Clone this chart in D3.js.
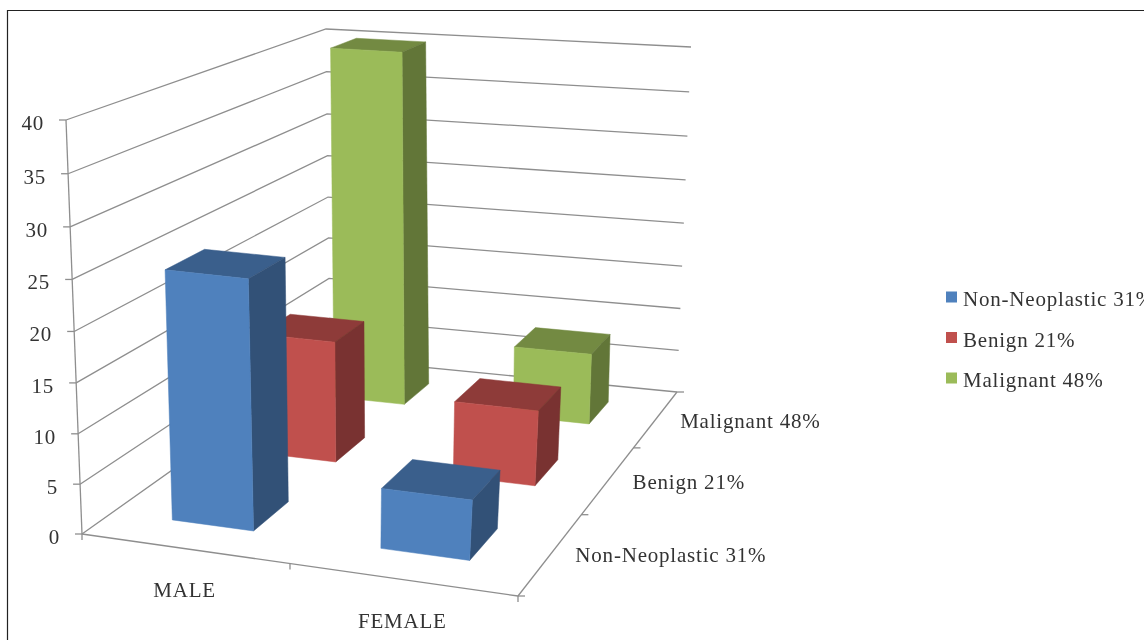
<!DOCTYPE html>
<html lang="en">
<head>
<meta charset="UTF-8" />
<title>Non-Neoplastic, Benign and Malignant by sex</title>
<style>
  html, body { margin: 0; padding: 0; background: #fff; overflow: hidden; }
  svg { display: block; filter: blur(0.45px); }
  text { font-family: "Liberation Serif", serif; font-size: 21px; letter-spacing: 0.8px; fill: #333; }
</style>
</head>
<body>
<div id="app"></div>
<script src="https://cdn.jsdelivr.net/npm/d3@7"></script>
<script>
// DATA
const categories = ["MALE", "FEMALE"];
const seriesNames = ["Non-Neoplastic 31%", "Benign 21%", "Malignant 48%"];
const nonNeoplastic = [25, 6];
const benign = [13, 8];
const malignant = [40, 8];
const valueTicks = [0, 5, 10, 15, 20, 25, 30, 35, 40];
const colors = ["#4f81bd", "#c0504d", "#9bbb59"];
const seriesValues = [nonNeoplastic, benign, malignant];

const w = 1144;
const h = 640;

const svg = d3.select("#app").append("svg")
  .attr("width", w)
  .attr("height", h);

// PROJECTION: corners of the 3d box on screen (front-left, front-right, back-right, back-left)
const floorQuad = [[82, 534], [518, 596], [677, 392], [330, 358]];
const ceilQuad = [[66, 120], [552, 168], [691, 47], [326, 29]];

const quadMap = (q) => {
  const [[x0, y0], [x1, y1], [x2, y2], [x3, y3]] = q;
  const dx1 = x1 - x2, dx2 = x3 - x2, sx = x0 - x1 + x2 - x3;
  const dy1 = y1 - y2, dy2 = y3 - y2, sy = y0 - y1 + y2 - y3;
  const den = dx1 * dy2 - dx2 * dy1;
  const g = (sx * dy2 - dx2 * sy) / den;
  const k = (dx1 * sy - sx * dy1) / den;
  const a = x1 - x0 + g * x1, b = x3 - x0 + k * x3;
  const d = y1 - y0 + g * y1, e = y3 - y0 + k * y3;
  return (u, v) => {
    const z = g * u + k * v + 1;
    return [(a * u + b * v + x0) / z, (d * u + e * v + y0) / z];
  };
};
const floorMap = quadMap(floorQuad);
const ceilMap = quadMap(ceilQuad);

// Scales
const yScale = d3.scaleLinear().domain([0, 40]).range([0, 1]);
const xScale = d3.scaleBand().domain(categories).range([0, 1]).paddingInner(0.6).paddingOuter(0.3);
const zScale = d3.scaleBand().domain(seriesNames).range([0, 1]).paddingInner(0.6).paddingOuter(0.3);

const project = (u, z, value) => {
  const t0 = yScale(value);
  const t = t0 / (t0 + 1.044 * (1 - t0));
  const a = floorMap(u, z), b = ceilMap(u, z);
  return [a[0] + (b[0] - a[0]) * t, a[1] + (b[1] - a[1]) * t];
};

const line = d3.line();
const gridColor = "#8e8e8e";

// Frame of the picture
svg.append("path")
  .attr("d", line([[7.5, h], [7.5, 10.5], [w, 10.5]]))
  .attr("fill", "none")
  .attr("stroke", "#222")
  .attr("stroke-width", 1.2);

// Gridlines on the two walls
const grid = svg.append("g")
  .attr("fill", "none")
  .attr("stroke", gridColor)
  .attr("stroke-width", 1.3);

grid.selectAll(".wall")
  .data(valueTicks)
  .enter()
  .append("path")
  .attr("class", "wall")
  .attr("d", d => line([project(0, 0, d), project(0, 1, d), project(1, 1, d)]));

// Axis lines
grid.append("path").attr("d", line([project(0, 0, 0), project(0, 0, 40)]));
grid.append("path").attr("d", line([project(0, 0, 0), project(1, 0, 0)]));
grid.append("path").attr("d", line([project(1, 0, 0), project(1, 1, 0)]));

// Tick marks
grid.selectAll(".ytick")
  .data(valueTicks)
  .enter()
  .append("path")
  .attr("class", "ytick")
  .attr("d", d => {
    const p = project(0, 0, d);
    return line([[p[0] - 7, p[1]], p]);
  });

grid.selectAll(".xtick")
  .data([0, 0.5, 1])
  .enter()
  .append("path")
  .attr("class", "xtick")
  .attr("d", d => {
    const p = project(d, 0, 0);
    return line([p, [p[0], p[1] + 6]]);
  });

grid.selectAll(".ztick")
  .data([0, 1 / 3, 2 / 3, 1])
  .enter()
  .append("path")
  .attr("class", "ztick")
  .attr("d", d => {
    const p = project(1, d, 0);
    return line([p, [p[0] + 7, p[1]]]);
  });

// Value labels
svg.selectAll(".ylabel")
  .data(valueTicks)
  .enter()
  .append("text")
  .attr("class", "ylabel")
  .attr("text-anchor", "end")
  .attr("x", d => project(0, 0, d)[0] - 22)
  .attr("y", d => project(0, 0, d)[1] + 10)
  .text(d => d);

// Category labels
svg.selectAll(".xlabel")
  .data(categories)
  .enter()
  .append("text")
  .attr("class", "xlabel")
  .attr("text-anchor", "middle")
  .attr("x", d => project(xScale(d) + xScale.bandwidth() / 2, 0, 0)[0] + 1)
  .attr("y", d => project(xScale(d) + xScale.bandwidth() / 2, 0, 0)[1] + 49)
  .text(d => d);

// Series labels along the depth axis
svg.selectAll(".zlabel")
  .data(seriesNames)
  .enter()
  .append("text")
  .attr("class", "zlabel")
  .attr("x", d => project(1, zScale(d) + zScale.bandwidth() / 2, 0)[0] + 24)
  .attr("y", d => project(1, zScale(d) + zScale.bandwidth() / 2, 0)[1] + 9)
  .text(d => d);

// BARS: back row first so the front ones cover them
const bars = [];
seriesNames.forEach((name, s) => {
  categories.forEach((cat, c) => {
    bars.push({ name, cat, value: seriesValues[s][c], color: colors[s] });
  });
});
bars.reverse();

const shade = (c, f) => {
  const r = d3.rgb(c);
  return d3.rgb(r.r * f, r.g * f, r.b * f).formatHex();
};

const barGroups = svg.selectAll(".bar")
  .data(bars)
  .enter()
  .append("g")
  .attr("class", "bar");

barGroups.each(function (d) {
  const u0 = xScale(d.cat), u1 = u0 + xScale.bandwidth();
  const z0 = zScale(d.name), z1 = z0 + zScale.bandwidth();
  const g = d3.select(this);
  const face = (pts, fill) => g.append("path")
    .attr("d", line(pts) + "Z")
    .attr("fill", fill)
    .attr("stroke", fill)
    .attr("stroke-width", 0.5);
  // top
  face([project(u0, z0, d.value), project(u1, z0, d.value), project(u1, z1, d.value), project(u0, z1, d.value)], shade(d.color, 0.74));
  // right side
  face([project(u1, z0, d.value), project(u1, z1, d.value), project(u1, z1, 0), project(u1, z0, 0)], shade(d.color, 0.63));
  // front
  face([project(u0, z0, d.value), project(u1, z0, d.value), project(u1, z0, 0), project(u0, z0, 0)], d.color);
});

// LEGEND
const legendY = d3.scalePoint().domain(seriesNames).range([297, 378]);
const legend = svg.selectAll(".legend")
  .data(seriesNames)
  .enter()
  .append("g")
  .attr("class", "legend")
  .attr("transform", d => "translate(946," + legendY(d) + ")");

legend.append("rect")
  .attr("x", 0)
  .attr("y", -5.5)
  .attr("width", 11)
  .attr("height", 11)
  .attr("fill", (d, i) => colors[i]);

legend.append("text")
  .attr("x", 17)
  .attr("y", 9)
  .text(d => d);
</script>
</body>
</html>
